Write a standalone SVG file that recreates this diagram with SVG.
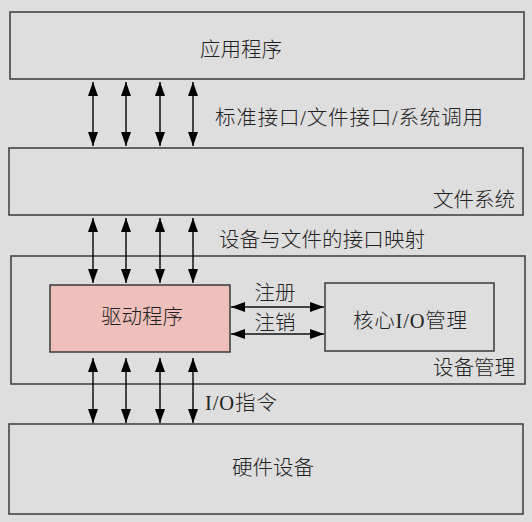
<svg xmlns="http://www.w3.org/2000/svg" width="532" height="522" viewBox="0 0 532 522">
  <style>
    .box { fill: #dedede; stroke: #3a3a3a; stroke-width: 1.5; }
    .drv { fill: #efc0bb; stroke: #3a3a3a; stroke-width: 1.5; }
    .t { font-family: 'Liberation Serif', 'Noto Sans CJK SC', serif; font-size: 20.5px; font-weight: 300; fill: #222; }
    .c { stroke: #111; stroke-width: 1.5; fill: none; marker-start: url(#ah); marker-end: url(#ah); }
  </style>
  <defs>
    <marker id="ah" viewBox="0 0 14 10" refX="14" refY="5" markerWidth="14" markerHeight="10" markerUnits="userSpaceOnUse" orient="auto-start-reverse">
      <path d="M0,0 L14,5 L0,10 z" fill="#000"/>
    </marker>
  </defs>
  <rect width="532" height="522" fill="#dedede"/>

  <g id="app">
    <rect class="box" x="10" y="12" width="514" height="67"/>
    <text class="t" x="241" y="57" text-anchor="middle">应用程序</text>
  </g>
  <g id="fs">
    <rect class="box" x="9" y="148" width="514" height="67"/>
    <text class="t" x="515" y="207" text-anchor="end">文件系统</text>
  </g>
  <g id="devmgmt">
    <rect class="box" x="11" y="256" width="514" height="128"/>
    <text class="t" x="515" y="375" text-anchor="end">设备管理</text>
  </g>
  <g id="driver">
    <rect class="drv" x="50" y="285" width="180" height="67"/>
    <text class="t" x="142" y="324" text-anchor="middle">驱动程序</text>
  </g>
  <g id="coreio">
    <rect class="box" x="325" y="283" width="169" height="68"/>
    <text class="t" x="353" y="328" textLength="114">核心I/O管理</text>
  </g>
  <g id="hw">
    <rect class="box" x="9" y="424" width="514" height="90"/>
    <text class="t" x="273" y="475" text-anchor="middle">硬件设备</text>
  </g>

  <g id="connectors">
    <line class="c" x1="93" y1="82" x2="93" y2="146"/>
    <line class="c" x1="126" y1="82" x2="126" y2="146"/>
    <line class="c" x1="160" y1="82" x2="160" y2="146"/>
    <line class="c" x1="193" y1="82" x2="193" y2="146"/>
    <line class="c" x1="93" y1="218" x2="93" y2="283"/>
    <line class="c" x1="126" y1="218" x2="126" y2="283"/>
    <line class="c" x1="160" y1="218" x2="160" y2="283"/>
    <line class="c" x1="193" y1="218" x2="193" y2="283"/>
    <line class="c" x1="93" y1="358" x2="93" y2="423"/>
    <line class="c" x1="126" y1="358" x2="126" y2="423"/>
    <line class="c" x1="160" y1="358" x2="160" y2="423"/>
    <line class="c" x1="193" y1="358" x2="193" y2="423"/>
    <line class="c" x1="231" y1="307" x2="324" y2="307"/>
    <line class="c" x1="231" y1="334" x2="324" y2="334"/>
    <text class="t" x="215" y="125" textLength="268">标准接口/文件接口/系统调用</text>
    <text class="t" x="219" y="247" textLength="206">设备与文件的接口映射</text>
    <text class="t" x="275" y="300" text-anchor="middle">注册</text>
    <text class="t" x="275" y="330" text-anchor="middle">注销</text>
    <text class="t" x="205" y="410" textLength="72">I/O指令</text>
  </g>
</svg>
